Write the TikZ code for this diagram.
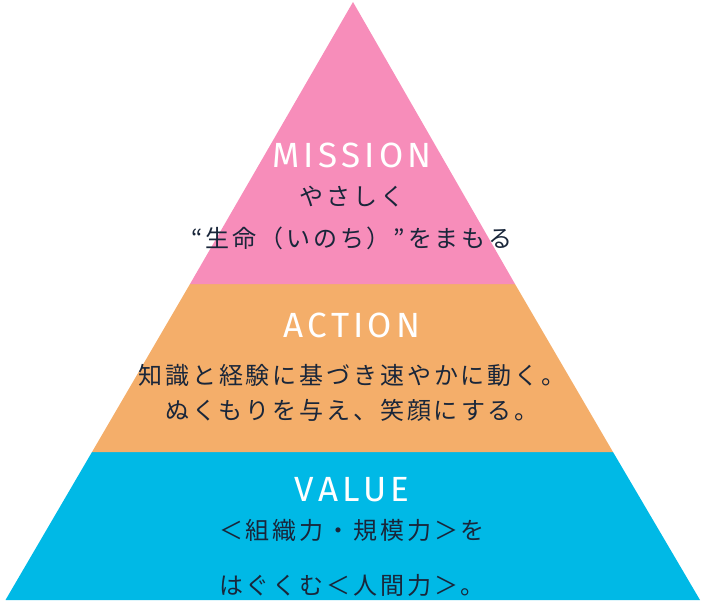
\documentclass[tikz,border=0pt]{standalone}
\usepackage{fontspec}
\newfontfamily\jpfont[LetterSpace=12]{Noto Sans CJK JP}
\newfontfamily\headfont[LetterSpace=12]{Fira Sans}
\definecolor{missionpink}{RGB}{247,141,186}
\definecolor{actionorange}{RGB}{244,174,106}
\definecolor{valueblue}{RGB}{0,185,230}
\definecolor{inkblue}{RGB}{25,38,58}
\tikzset{
  headtext/.style={text=white,font=\headfont\fontsize{35}{35}\selectfont,inner sep=0pt},
  bodytext/.style={text=inkblue,font=\jpfont\fontsize{24}{24}\selectfont,inner sep=0pt}
}
\begin{document}
\begin{tikzpicture}[x=1pt,y=-1pt]
  \useasboundingbox (0,0) rectangle (706,610);
  % bands
  \fill [valueblue] (5.5,600) -- (700,600) -- (613,452) -- (92,452) -- cycle;
  \fill [actionorange] (92,452) -- (613,452) -- (515,284) -- (190,284) -- cycle;
  \fill [missionpink] (190,284) -- (515,284) -- (353,2) -- cycle;
  % texts
  \node [headtext] (mission) at (352,155) {MISSION};
  \node [bodytext] (missionA) at (352,197) {やさしく};
  \node [bodytext] (missionB) at (352,238) {“生命（いのち）”をまもる};
  \node [headtext] (action) at (352,325) {ACTION};
  \node [bodytext] (actionA) at (352,375) {知識と経験に基づき速やかに動く。};
  \node [bodytext] (actionB) at (352,410) {ぬくもりを与え、笑顔にする。};
  \node [headtext] (value) at (352,490) {VALUE};
  \node [bodytext] (valueA) at (352,530) {＜組織力・規模力＞を};
  \node [bodytext] (valueB) at (352,585) {はぐくむ＜人間力＞。};
\end{tikzpicture}
\end{document}
